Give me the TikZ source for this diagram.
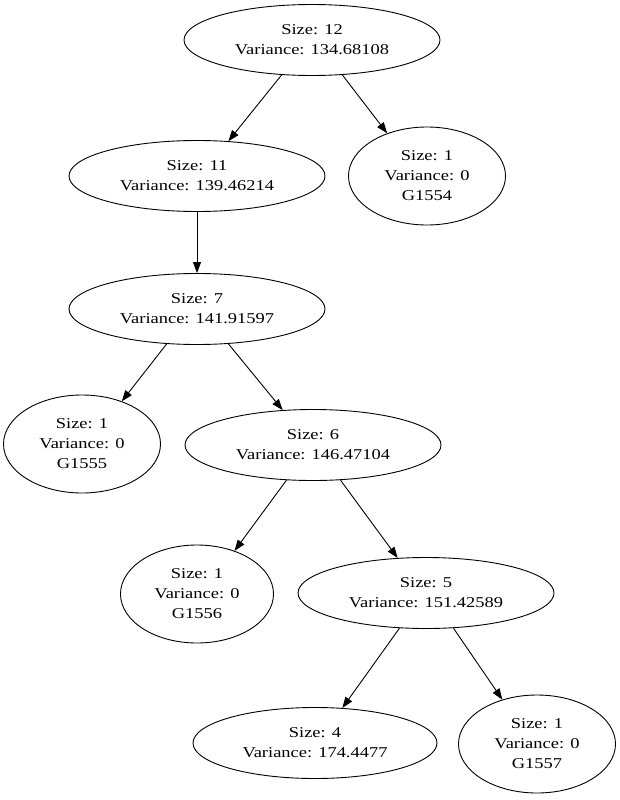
\documentclass[tikz,border=0pt]{standalone}
\usepackage{fontspec}
\setmainfont{Liberation Serif}
\newfontfamily\gvfont[FakeStretch=1.23]{Liberation Serif}
\usetikzlibrary{shapes.geometric,arrows.meta}

\begin{document}
\begin{tikzpicture}[x=1pt,y=-1pt,line width=0.9pt,
    stat/.style={draw,ellipse,inner sep=0pt,align=center,font=\gvfont\fontsize{15}{20}\selectfont,minimum width=256pt,minimum height=71pt},
    leaf/.style={stat,minimum width=157pt,minimum height=98pt},
    edge/.style={-{Triangle[length=11pt,width=8pt]}}]
            \useasboundingbox (0,0) rectangle (620,800);
            % inner nodes
            \node[stat] (n12) at (312,40) {Size: 12\\Variance: 134.68108};
            \node[stat] (n11) at (197,176) {Size: 11\\Variance: 139.46214};
            \node[stat] (n7) at (197,309) {Size: 7\\Variance: 141.91597};
            \node[stat] (n6) at (313,445) {Size: 6\\Variance: 146.47104};
            \node[stat] (n5) at (426,593) {Size: 5\\Variance: 151.42589};
            \node[stat,minimum width=244pt] (n4) at (315,743) {Size: 4\\Variance: 174.4477};
            % leaves
            \node[leaf] (g1554) at (427,176) {Size: 1\\Variance: 0\\G1554};
            \node[leaf] (g1555) at (82,444) {Size: 1\\Variance: 0\\G1555};
            \node[leaf,minimum width=153pt] (g1556) at (197,594) {Size: 1\\Variance: 0\\G1556};
            \node[leaf] (g1557) at (537,744) {Size: 1\\Variance: 0\\G1557};
            % edges
            \draw[edge] (n12.-131) -- (n11.48);
            \draw[edge] (n12.-49) -- (g1554.133);
            \draw[edge] (n11) -- (n7);
            \draw[edge] (n7.-131) -- (g1555.47);
            \draw[edge] (n7.-48) -- (n6.131);
            \draw[edge] (n6.-127) -- (g1556.49);
            \draw[edge] (n6.-52) -- (n5.129);
            \draw[edge] (n5.-127) -- (n4.52);
            \draw[edge] (n5.-52) -- (g1557.128);
        \end{tikzpicture}
\end{document}
